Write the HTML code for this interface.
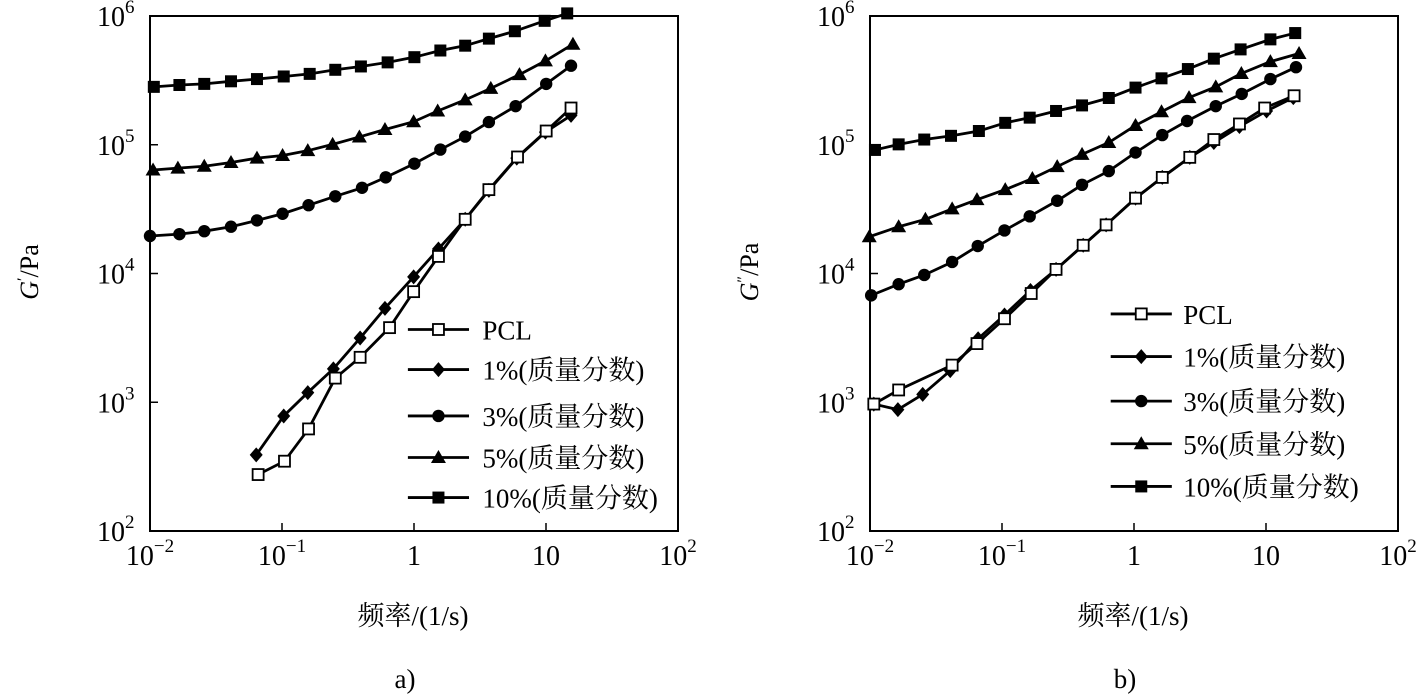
<!DOCTYPE html>
<html><head><meta charset="utf-8"><style>
html,body{margin:0;padding:0;background:#fff;}
svg{display:block;font-family:"Liberation Serif","Noto Serif CJK SC",serif;}
</style></head><body>
<svg id="s" width="1418" height="694" xmlns="http://www.w3.org/2000/svg"></svg>
<script>
var s=document.getElementById('s');var out='';
function plot(ox,ylab,cx,tag,data,leg){
 var X0=ox,X1=ox+528,Y0=16,Y1=531;
 function mx(z){return ox+(z-130)*528/1382;}
 function my(z){return 16+(z-42)*0.371;}
 out+='<rect x="'+X0+'" y="'+Y0+'" width="528" height="515" fill="none" stroke="#000" stroke-width="2"/>';
 var xl=['10<tspan dy="-13" font-size="19">−2</tspan>','10<tspan dy="-13" font-size="19">−1</tspan>','1','10','10<tspan dy="-13" font-size="19">2</tspan>'];
 for(var i=0;i<5;i++){var x=X0+i*132;
  if(i>0&&i<4)out+='<line x1="'+x+'" y1="'+Y1+'" x2="'+x+'" y2="'+(Y1-8)+'" stroke="#000" stroke-width="1.5"/>';
  out+='<text x="'+x+'" y="'+(Y1+34)+'" font-size="28" text-anchor="middle">'+xl[i]+'</text>';}
 for(var j=0;j<5;j++){var y=Y1-j*128.75;
  if(j>0&&j<4)out+='<line x1="'+X0+'" y1="'+y+'" x2="'+(X0+8)+'" y2="'+y+'" stroke="#000" stroke-width="1.5"/>';
  out+='<text x="'+(X0-53)+'" y="'+(y+10)+'" font-size="28">10<tspan dy="-13" font-size="19">'+(j+2)+'</tspan></text>';}
 out+='<text transform="translate('+(ox-112)+',272) rotate(-90)" font-size="26" text-anchor="middle"><tspan font-style="italic">G</tspan><tspan dy="-10" font-size="16">'+ylab+'</tspan><tspan dy="10">/Pa</tspan></text>';
 out+='<text x="'+cx+'" y="625" font-size="27" text-anchor="middle">频率/(1/s)</text>';
 out+='<text x="'+(cx-8)+'" y="688" font-size="27" text-anchor="middle">'+tag+'</text>';
 function mk(t,x,y){
  if(t=='o')return '<rect x="'+(x-5.5)+'" y="'+(y-5.5)+'" width="11" height="11" fill="#fff" stroke="#000" stroke-width="1.8"/>';
  if(t=='s')return '<rect x="'+(x-6)+'" y="'+(y-6)+'" width="12" height="12" fill="#000"/>';
  if(t=='c')return '<circle cx="'+x+'" cy="'+y+'" r="6.2" fill="#000"/>';
  if(t=='d')return '<polygon points="'+x+','+(y-7.5)+' '+(x+6.5)+','+y+' '+x+','+(y+7.5)+' '+(x-6.5)+','+y+'" fill="#000"/>';
  if(t=='t')return '<polygon points="'+x+','+(y-7.5)+' '+(x+7.5)+','+(y+5.5)+' '+(x-7.5)+','+(y+5.5)+'" fill="#000"/>';}
 data.forEach(function(d){var p=d[1].map(function(q){return [mx(q[0]),my(q[1])];});
  out+='<polyline points="'+p.map(function(q){return q.join(',')}).join(' ')+'" fill="none" stroke="#000" stroke-width="2.8"/>';
  p.forEach(function(q){out+=mk(d[0],q[0],q[1]);});});
 var names=['PCL','1%(质量分数)','3%(质量分数)','5%(质量分数)','10%(质量分数)'],ts=['o','d','c','t','s'];
 for(var k=0;k<5;k++){var y=my(leg[3][k]),a=mx(leg[0]),b=mx(leg[1]);
  out+='<line x1="'+a+'" y1="'+y+'" x2="'+b+'" y2="'+y+'" stroke="#000" stroke-width="2.8"/>'+mk(ts[k],(a+b)/2,y);
  out+='<text x="'+mx(leg[2])+'" y="'+(y+10)+'" font-size="27">'+names[k]+'</text>';}
}
plot(150,'′',413,'a)',[
['s',[[140,233],[207,228],[272,225],[342,218],[410,212],[480,205],[548,198],[615,187],[682,178],[752,167],[822,153],[890,135],[955,122],[1017,103],[1085,83],[1163,55],[1222,35]]],
['t',[[138,457],[203,452],[272,447],[342,437],[410,425],[477,418],[543,405],[608,388],[678,368],[745,348],[820,327],[883,298],[955,268],[1022,237],[1097,200],[1165,163],[1237,118]]],
['c',[[130,635],[207,630],[272,622],[342,610],[410,593],[477,575],[545,552],[615,528],[685,505],[747,477],[822,440],[890,402],[955,367],[1017,328],[1087,285],[1167,225],[1232,176]]],
['d',[[408,1225],[480,1120],[543,1057],[610,993],[680,910],[745,830],[820,745],[885,670],[955,590],[1017,512],[1090,425],[1165,355],[1232,310]]],
['o',[[413,1278],[482,1242],[545,1155],[615,1018],[680,962],[757,882],[820,785],[885,690],[955,590],[1017,510],[1092,422],[1167,352],[1232,290]]]
],[805,965,1000,[887,995,1120,1232,1340]]);
plot(870,'″',1133,'b)',[
['s',[[143,403],[205,388],[272,375],[342,365],[415,352],[484,330],[548,316],[617,298],[685,283],[755,263],[825,235],[893,210],[962,185],[1030,157],[1100,132],[1178,105],[1243,88]]],
['t',[[128,637],[205,610],[275,590],[345,562],[410,537],[484,510],[555,480],[620,448],[685,415],[755,383],[825,337],[893,300],[965,262],[1035,233],[1102,197],[1178,165],[1253,143]]],
['c',[[133,795],[205,765],[272,740],[345,705],[412,662],[482,620],[548,582],[620,540],[685,497],[755,460],[825,410],[895,363],[960,325],[1035,285],[1103,252],[1178,212],[1245,180]]],
['d',[[140,1088],[203,1103],[268,1062],[340,998],[413,912],[482,848],[550,782],[617,725],[688,660],[748,605],[825,533],[895,477],[967,423],[1030,383],[1097,340],[1168,298],[1238,262]]],
['o',[[140,1088],[205,1050],[345,983],[410,925],[482,858],[552,790],[617,725],[688,660],[748,605],[825,533],[895,477],[967,423],[1030,375],[1097,333],[1163,290],[1240,257]]]
],[760,920,950,[845,960,1080,1195,1310]]);
s.innerHTML=out;
</script>
</body></html>
